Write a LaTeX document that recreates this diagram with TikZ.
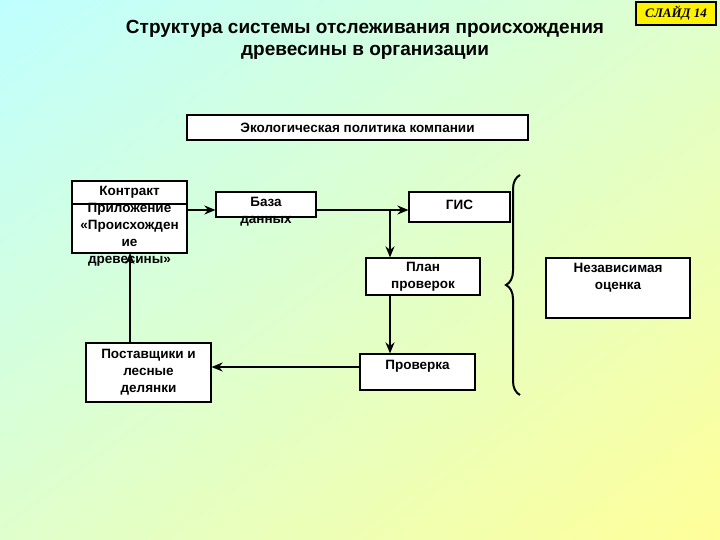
\documentclass[tikz,border=0pt]{standalone}
\usepackage{fontspec}
\setmainfont{Liberation Sans}
\newfontfamily\slidefont{Liberation Serif}
\usetikzlibrary{arrows.meta,decorations.pathreplacing,shadings}
\definecolor{bgcyan}{HTML}{BFFFFF}
\definecolor{bgyellow}{HTML}{FFFF99}
\tikzset{
    box/.style={draw, line width=1.2pt, fill=white, inner sep=0pt},
    lbl/.style={font=\bfseries\fontsize{13.5}{17}\selectfont, align=center},
    flow/.style={line width=2pt, -{Stealth[length=11pt,width=9pt]}}
}
\begin{document}
\begin{tikzpicture}[x=1pt,y=-1pt]

    % background
    \shade[upper left=bgcyan, upper right=bgcyan!50!bgyellow, lower left=bgcyan!50!bgyellow, lower right=bgyellow] (0,0) rectangle (720,540);
    \useasboundingbox (0,0) rectangle (720,540);

    \node[draw, line width=1.2pt, fill=yellow, minimum width=80pt, minimum height=23pt, font=\slidefont\bfseries\itshape\fontsize{13}{15}\selectfont] (slide) at (676,13.5) {СЛАЙД 14};

    \node[font=\bfseries\fontsize{19}{22}\selectfont, align=center] (title) at (365,40) {Структура системы отслеживания происхождения\\древесины в организации};

    % boxes
    \node[box, minimum width=341pt, minimum height=25pt] (policy) at (357.5,127.5) {};
    \node[lbl] at (policy) {Экологическая политика компании};

    \node[box, minimum width=115pt, minimum height=72pt] (contract) at (129.5,217) {};
    \draw[line width=1.2pt] (72,204) -- (187,204);
    \node[lbl] (contracttext) at (129.5,226) {Контракт\\Приложение\\«Происхожден\\ие\\древесины»};

    \node[box, minimum width=100pt, minimum height=25pt] (db) at (266,204.5) {};
    \node[lbl] at (266,212) {База\\данных};

    \node[box, minimum width=101pt, minimum height=30pt] (gis) at (459.5,207) {};
    \node[lbl] at (459.5,205) {ГИС};

    \node[box, minimum width=114pt, minimum height=37pt] (plan) at (423,276.5) {};
    \node[lbl] at (plan) {План\\проверок};

    \node[box, minimum width=115pt, minimum height=36pt] (check) at (417.5,372) {};
    \node[lbl] at (417.5,366) {Проверка};

    \node[box, minimum width=125pt, minimum height=59pt] (suppliers) at (148.5,372.5) {};
    \node[lbl] at (suppliers) {Поставщики и\\лесные\\делянки};

    \node[box, minimum width=144pt, minimum height=60pt] (indep) at (618,288) {};
    \node[lbl] at (618,278) {Независимая\\оценка};

    % brace
    \coordinate (bracetop) at (520,175);
    \coordinate (bracebot) at (520,395);
    \draw[line width=2pt, decorate, decoration={brace, amplitude=14pt}] (bracebot) -- (bracetop);

    % connectors
    \coordinate (split) at (390,210);
    \draw[flow] (contract.east |- 0,210) -- (db.west |- 0,210);
    \draw[line width=2pt] (db.east |- 0,210) -- (split);
    \draw[flow] (split) -- (gis.west |- split);
    \draw[flow] (split) -- (split |- plan.north);
    \draw[flow] (split |- plan.south) -- (split |- check.north);
    \draw[flow] (check.west |- 0,367) -- (suppliers.east |- 0,367);
    \draw[flow] (130,343) -- (130,253);

\end{tikzpicture}
\end{document}
